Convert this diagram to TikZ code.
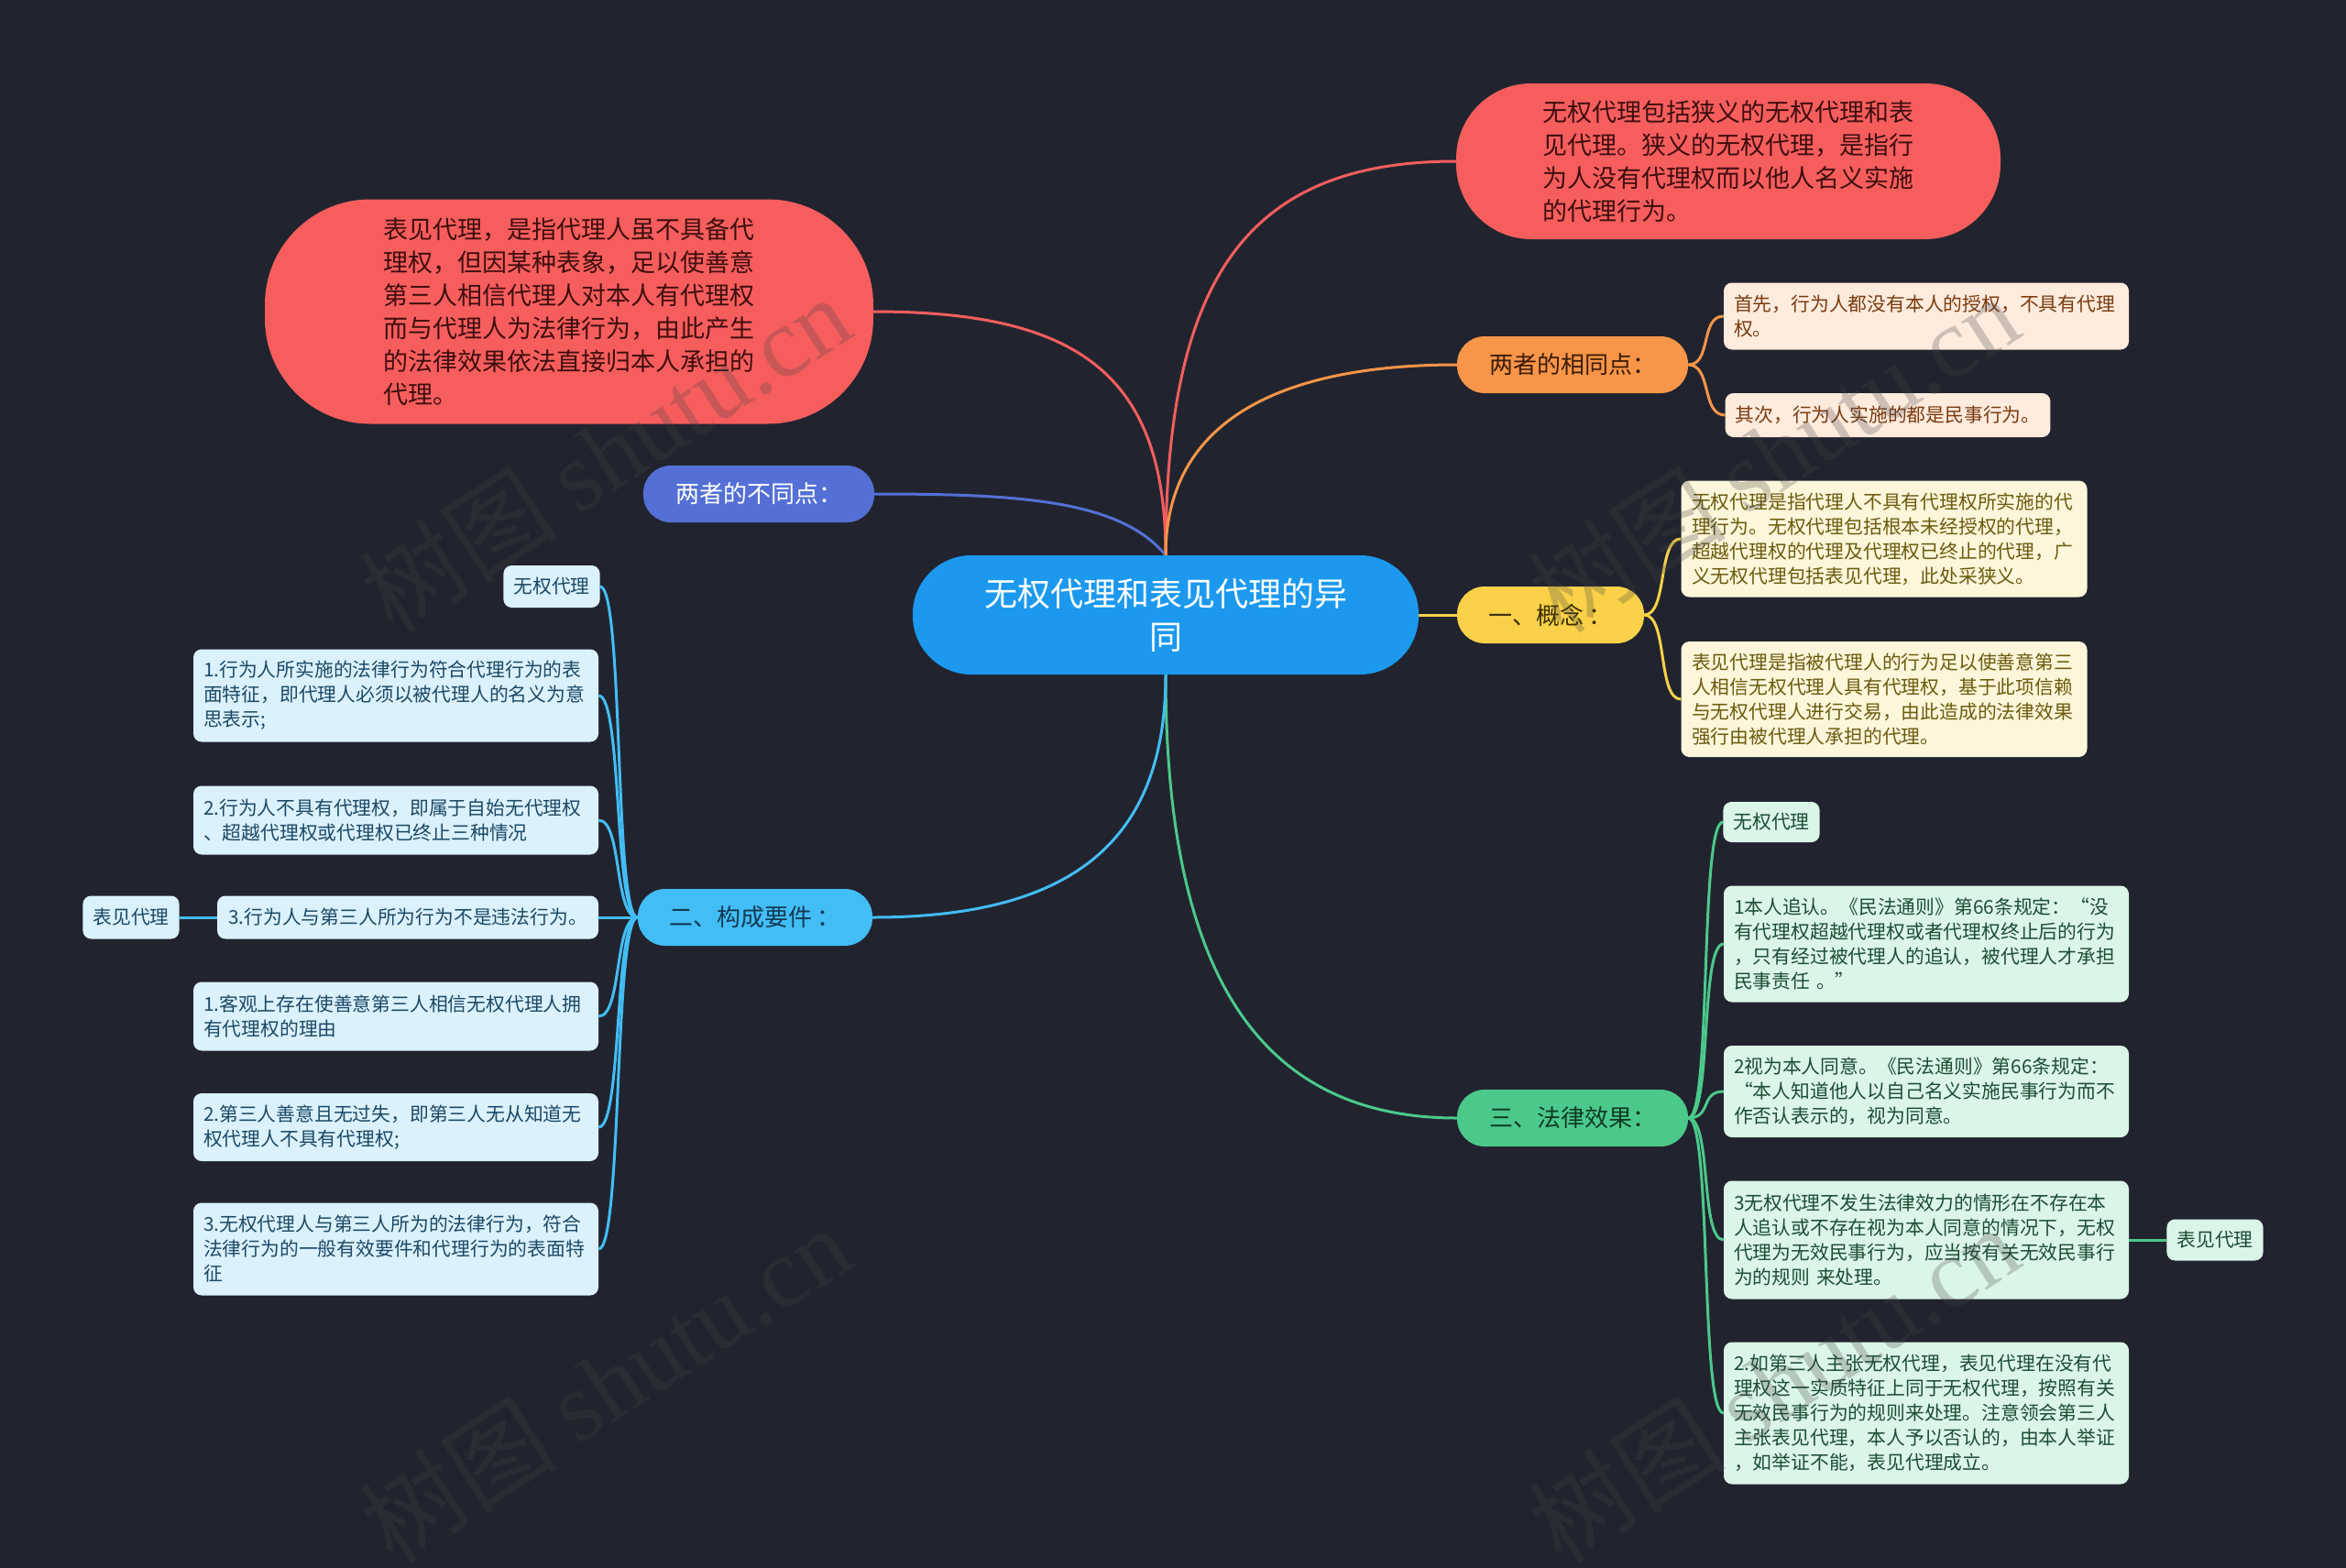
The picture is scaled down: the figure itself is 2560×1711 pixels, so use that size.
\documentclass[tikz,border=0pt]{standalone}
\usepackage{fontspec}
\setmainfont{Noto Sans CJK SC}
\newfontfamily\wmserif{Liberation Serif}
\definecolor{bgc}{HTML}{21242F}
\definecolor{cblue}{HTML}{1C99EE}
\definecolor{cred}{HTML}{F65E5D}
\definecolor{credtxt}{HTML}{3E0E0E}
\definecolor{cpurple}{HTML}{5470D6}
\definecolor{corange}{HTML}{F89548}
\definecolor{corangetxt}{HTML}{3A1C06}
\definecolor{corangeleaf}{HTML}{FDEBDD}
\definecolor{corangeleaftxt}{HTML}{7A3B10}
\definecolor{cyellow}{HTML}{FAD148}
\definecolor{cyellowtxt}{HTML}{3A3000}
\definecolor{cyellowleaf}{HTML}{FDF6DA}
\definecolor{cyellowleaftxt}{HTML}{6B5B0E}
\definecolor{cgreen}{HTML}{4BC98B}
\definecolor{cgreentxt}{HTML}{0F3A22}
\definecolor{cgreenleaf}{HTML}{DCF5E9}
\definecolor{cgreenleaftxt}{HTML}{1D4D33}
\definecolor{clblue}{HTML}{43BDF5}
\definecolor{clbluetxt}{HTML}{123A55}
\definecolor{clblueleaf}{HTML}{DBF1FC}
\definecolor{clblueleaftxt}{HTML}{1C4966}
\definecolor{wmgray}{HTML}{444444}
\tikzset{
  ctrnode/.style={fill=cblue, text=white, font=\fontsize{36}{47}\selectfont, align=center,
    minimum width=552pt, minimum height=130pt, rounded corners=64pt, inner sep=0pt},
  bignode/.style={fill=cred, text=credtxt, font=\fontsize{27}{36}\selectfont, align=left, inner sep=0pt},
  lone/.style={font=\fontsize{26}{32}\selectfont, minimum width=252pt, minimum height=62pt,
    rounded corners=30pt, inner sep=0pt},
  leaf/.style={font=\fontsize{20.8}{27}\selectfont, rounded corners=9pt, inner xsep=11pt,
    inner ysep=9pt, align=left},
  wide/.style={text width=420pt, minimum width=442pt},
  oleaf/.style={leaf, fill=corangeleaf, text=corangeleaftxt},
  yleaf/.style={leaf, fill=cyellowleaf, text=cyellowleaftxt},
  gleaf/.style={leaf, fill=cgreenleaf, text=cgreenleaftxt},
  bleaf/.style={leaf, fill=clblueleaf, text=clblueleaftxt},
  conn/.style={line width=3pt},
  wmark/.style={rotate=33, text=wmgray, opacity=0.26, font=\fontsize{108}{118}\selectfont},
}
\begin{document}
\begin{tikzpicture}[x=1pt,y=-1pt]
\fill[bgc] (0,0) rectangle (2560,1711);
\useasboundingbox (0,0) rectangle (2560,1711);

% center
\node[ctrnode] (ctr) at (1272,671) {无权代理和表见代理的异\\同};

% big red nodes
\node[bignode, minimum width=594pt, minimum height=170pt, rounded corners=82pt] (R1) at (1886,176)
  {无权代理包括狭义的无权代理和表\\见代理。狭义的无权代理，是指行\\为人没有代理权而以他人名义实施\\的代理行为。};
\node[bignode, minimum width=664pt, minimum height=245pt, rounded corners=115pt] (R2) at (621,340)
  {表见代理，是指代理人虽不具备代\\理权，但因某种表象，足以使善意\\第三人相信代理人对本人有代理权\\而与代理人为法律行为，由此产生\\的法律效果依法直接归本人承担的\\代理。};

% level one
\node[lone, fill=cpurple, text=white] (D) at (828,539) {两者的不同点：};
\node[lone, fill=corange, text=corangetxt] (S) at (1716,398) {两者的相同点：};
\node[lone, fill=cyellow, text=cyellowtxt, minimum width=204pt] (C) at (1692,671) {一、概念 ：};
\node[lone, fill=cgreen, text=cgreentxt] (E) at (1716,1220) {三、法律效果：};
\node[lone, fill=clblue, text=clbluetxt, minimum width=256pt] (K) at (824,1001) {二、构成要件 ：};

% same points
\node[oleaf, wide, minimum height=73pt] (S1) at (2102,345) {首先，行为人都没有本人的授权，不具有代理\\权。};
\node[oleaf, minimum height=48pt] (S2) at (2060,453) {其次，行为人实施的都是民事行为。};

% concept
\node[yleaf, wide, minimum width=443pt, minimum height=127pt] (C1) at (2056,588)
  {无权代理是指代理人不具有代理权所实施的代\\理行为。无权代理包括根本未经授权的代理，\\超越代理权的代理及代理权已终止的代理，广\\义无权代理包括表见代理，此处采狭义。};
\node[yleaf, wide, minimum width=443pt, minimum height=126pt] (C2) at (2056,763)
  {表见代理是指被代理人的行为足以使善意第三\\人相信无权代理人具有代理权，基于此项信赖\\与无权代理人进行交易，由此造成的法律效果\\强行由被代理人承担的代理。};

% legal effects
\node[gleaf, minimum height=44pt] (E0) at (1933,897) {无权代理};
\node[gleaf, wide, minimum height=127pt] (E1) at (2102,1030)
  {1本人追认。《民法通则》第66条规定：“没\\有代理权超越代理权或者代理权终止后的行为\\，只有经过被代理人的追认，被代理人才承担\\民事责任 。”};
\node[gleaf, wide, minimum height=100pt] (E2) at (2102,1191)
  {2视为本人同意。《民法通则》第66条规定：\\“本人知道他人以自己名义实施民事行为而不\\作否认表示的，视为同意。};
\node[gleaf, wide, minimum height=129pt] (E3) at (2102,1353)
  {3无权代理不发生法律效力的情形在不存在本\\人追认或不存在视为本人同意的情况下，无权\\代理为无效民事行为，应当按有关无效民事行\\为的规则 来处理。};
\node[gleaf, minimum height=45pt] (E3b) at (2417,1353) {表见代理};
\node[gleaf, wide, minimum height=155pt] (E4) at (2102,1542)
  {2.如第三人主张无权代理，表见代理在没有代\\理权这一实质特征上同于无权代理，按照有关\\无效民事行为的规则来处理。注意领会第三人\\主张表见代理，本人予以否认的，由本人举证\\，如举证不能，表见代理成立。};

% constituent elements
\node[bleaf, minimum height=46pt] (K0) at (602,640) {无权代理};
\node[bleaf, wide, minimum height=101pt] (K1) at (432,759)
  {1.行为人所实施的法律行为符合代理行为的表\\面特征，即代理人必须以被代理人的名义为意\\思表示;};
\node[bleaf, wide, minimum height=75pt] (K2) at (432,895)
  {2.行为人不具有代理权，即属于自始无代理权\\、超越代理权或代理权已终止三种情况};
\node[bleaf, minimum height=47pt, minimum width=416pt] (K3) at (445,1001) {3.行为人与第三人所为行为不是违法行为。};
\node[bleaf, minimum height=47pt] (K3b) at (143,1001) {表见代理};
\node[bleaf, wide, minimum height=75pt] (K4) at (432,1109)
  {1.客观上存在使善意第三人相信无权代理人拥\\有代理权的理由};
\node[bleaf, wide, minimum height=74pt] (K5) at (432,1230)
  {2.第三人善意且无过失，即第三人无从知道无\\权代理人不具有代理权;};
\node[bleaf, wide, minimum height=101pt] (K6) at (432,1363)
  {3.无权代理人与第三人所为的法律行为，符合\\法律行为的一般有效要件和代理行为的表面特\\征};

% main connectors
\draw[conn, cred] (ctr.north) .. controls +(0,-300) and +(-230,0) .. (R1.west);
\draw[conn, cred] (ctr.north) .. controls +(0,-200) and +(220,0) .. (R2.east);
\draw[conn, cpurple] (ctr.north) .. controls +(-50,-60) and +(160,0) .. (D.east);
\draw[conn, corange] (ctr.north) .. controls +(0,-160) and +(-170,0) .. (S.west);
\draw[conn, cyellow] (ctr.east) -- (C.west);
\draw[conn, cgreen] (ctr.south) .. controls +(0,320) and +(-220,0) .. (E.west);
\draw[conn, clblue] (ctr.south) .. controls +(0,180) and +(220,0) .. (K.east);

% leaf connectors
\foreach \c in {S1,S2}
  \draw[conn, corange] (S.east) .. controls +(26,0) and +(-26,0) .. (\c.west);
\foreach \c in {C1,C2}
  \draw[conn, cyellow] (C.east) .. controls +(26,0) and +(-26,0) .. (\c.west);
\foreach \c in {E0,E1,E2,E3,E4}
  \draw[conn, cgreen] (E.east) .. controls +(26,0) and +(-26,0) .. (\c.west);
\foreach \c in {K0,K1,K2,K3,K4,K5,K6}
  \draw[conn, clblue] (K.west) .. controls +(-26,0) and +(26,0) .. (\c.east);
\draw[conn, clblue] (K3.west) -- (K3b.east);
\draw[conn, cgreen] (E3.east) -- (E3b.west);

% watermarks
\node[wmark] (wm1) at (660,495) {树图 {\wmserif shutu.cn}};
\node[wmark] (wm2) at (1935,495) {树图 {\wmserif shutu.cn}};
\node[wmark] (wm3) at (660,1510) {树图 {\wmserif shutu.cn}};
\node[wmark] (wm4) at (1935,1510) {树图 {\wmserif shutu.cn}};
\end{tikzpicture}
\end{document}
